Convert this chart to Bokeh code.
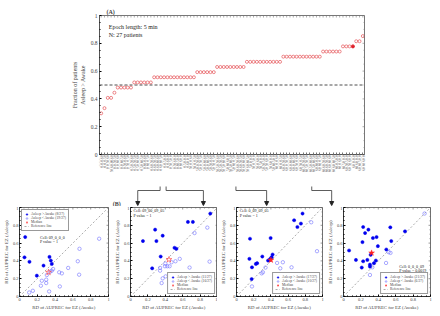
from bokeh.plotting import figure
from bokeh.layouts import column, row
from bokeh.models import (FixedTicker, CustomJSTickFormatter, Span, Label,
                          Arrow, NormalHead, Range1d, Legend, LegendItem)
from bokeh.embed import file_html
from bokeh.resources import INLINE

FONT = "Liberation Serif"

# ---------------- data: panel (A) ----------------
cells = [
    "09_0_0_0", "05_0_0_0", "09_05_0_0", "09_00_09_05", "05_05_0_0",
    "09_09_0_0", "05_09_0_0", "09_0_05_0", "05_0_05_0", "09_05_05_0",
    "05_05_05_0", "09_09_05_0", "05_09_05_0", "09_0_09_0", "05_0_09_0",
    "09_05_09_0", "05_05_09_0", "09_09_09_0", "05_09_09_0", "0_05_0_0",
    "0_09_0_0", "0_05_05_0", "0_09_05_0", "0_05_09_0", "0_09_09_0",
    "0_0_05_0", "0_0_09_0", "09_0_0_05", "05_0_0_05", "09_05_0_05",
    "05_05_0_05", "09_09_0_05", "05_09_0_05", "09_0_05_05", "05_0_05_05",
    "09_05_05_05", "05_05_05_05", "09_09_05_05", "0_09_09_05", "05_09_05_05",
    "05_0_09_05", "09_05_09_05", "05_05_09_05", "09_09_09_05", "05_09_09_05",
    "0_0_0_05", "0_05_0_05", "0_09_0_05", "0_0_05_05", "0_05_05_05",
    "0_09_05_05", "0_0_09_05", "0_05_09_05", "09_0_0_09", "05_0_0_09",
    "09_05_0_09", "05_05_0_09", "09_09_0_09", "05_09_0_09", "09_0_05_09",
    "05_0_05_09", "09_05_05_09", "05_05_05_09", "09_09_05_09", "05_09_05_09",
    "09_0_09_09", "05_0_09_09", "09_05_09_09", "05_05_09_09", "09_09_09_09",
    "05_09_09_09", "0_05_0_09", "0_09_0_09", "0_0_05_09", "0_05_05_09",
    "0_09_05_09", "0_0_0_09", "0_0_09_09", "0_05_09_09", "0_09_09_09",
]
# number of patients with Asleep > Awake (out of 27), per cell, sorted
n_asleep_gt = [
    8, 9, 11, 11, 12, 13, 13, 13, 13, 13,
    14, 14, 14, 14, 14, 14, 15, 15, 15, 15,
    15, 15, 15, 15, 15, 15, 15, 15, 15, 16,
    16, 16, 16, 16, 16, 17, 17, 17, 17, 17,
    17, 17, 17, 17, 18, 18, 18, 18, 18, 18,
    18, 18, 18, 18, 18, 19, 19, 19, 19, 19,
    19, 19, 19, 19, 19, 19, 19, 20, 20, 20,
    20, 20, 20, 21, 21, 21, 21, 22, 22, 23,
]
N_PATIENTS = 27
selected = [0, 3, 38, 76]
highlight = 76
y_ticks = [0, 0.2, 0.4, 0.6, 0.8, 1]
y_minor = [0.05, 0.1, 0.15, 0.25, 0.3, 0.35, 0.45, 0.5, 0.55, 0.65, 0.7, 0.75, 0.85, 0.9, 0.95]

# ---------------- data: panels (B) ----------------
p1_fill_x = [0.064, 0.056, 0.112, 0.27, 0.337, 0.352, 0.363, 0.195]
p1_fill_y = [0.668, 0.44, 0.39, 0.347, 0.445, 0.404, 0.366, 0.234]
p1_open_x = [0.895, 0.674, 0.655, 0.547, 0.670, 0.446, 0.476, 0.453, 0.378, 0.345,
             0.307, 0.30, 0.30, 0.251, 0.24, 0.333, 0.15, 0.109, 0.363]
p1_open_y = [0.649, 0.536, 0.396, 0.321, 0.245, 0.272, 0.26, 0.113, 0.309, 0.279,
             0.241, 0.189, 0.151, 0.177, 0.121, 0.057, 0.064, 0.045, 0.29]
p1_median = (0.326, 0.272)

p2_fill_x = [0.917, 0.66, 0.717, 0.283, 0.37, 0.298, 0.143, 0.506, 0.528, 0.347, 0.249]
p2_fill_y = [0.932, 0.838, 0.838, 0.751, 0.683, 0.623, 0.623, 0.547, 0.536, 0.449, 0.317]
p2_open_x = [0.883, 0.736, 0.909, 0.679, 0.566, 0.517, 0.396, 0.423, 0.449, 0.472,
             0.40, 0.34, 0.34, 0.404, 0.358, 0.37]
p2_open_y = [0.774, 0.713, 0.392, 0.325, 0.423, 0.396, 0.34, 0.34, 0.34, 0.385,
             0.37, 0.321, 0.29, 0.226, 0.151, 0.204]
p2_median = (0.442, 0.415)

p3_fill_x = [0.768, 0.67, 0.749, 0.708, 0.157, 0.397, 0.15, 0.18, 0.225, 0.24,
             0.3, 0.393, 0.42, 0.408, 0.367, 0.176, 0.385]
p3_fill_y = [0.932, 0.857, 0.819, 0.781, 0.649, 0.657, 0.423, 0.328, 0.366, 0.374,
             0.449, 0.423, 0.472, 0.442, 0.404, 0.196, 0.41]
p3_open_x = [0.869, 0.936, 0.539, 0.472, 0.509, 0.64, 0.337, 0.307, 0.292, 0.18]
p3_open_y = [0.834, 0.509, 0.385, 0.377, 0.317, 0.328, 0.325, 0.272, 0.26, 0.113]
p3_median = (0.40, 0.41)

p4_fill_x = [0.226, 0.286, 0.248, 0.538, 0.707, 0.338, 0.38, 0.218, 0.549, 0.395,
             0.064, 0.492, 0.143, 0.226, 0.274, 0.312, 0.372, 0.35, 0.304, 0.304, 0.21]
p4_fill_y = [0.781, 0.751, 0.713, 0.777, 0.732, 0.657, 0.668, 0.611, 0.623, 0.566,
             0.517, 0.528, 0.411, 0.396, 0.411, 0.468, 0.404, 0.374, 0.358, 0.336, 0.325]
p4_open_x = [0.932, 0.519, 0.54, 0.489, 0.331, 0.304]
p4_open_y = [0.932, 0.498, 0.49, 0.377, 0.328, 0.242]
p4_median = (0.323, 0.49)

panel_cells = ["Cell: 09_0_0_0", "Cell: 09_00_09_05", "Cell: 0_09_09_05", "Cell: 0_0_0_09"]
panel_pvalues = ["P value = 1", "P value = 1", "P value = 1", "P value = 0.0019"]

num_fmt = CustomJSTickFormatter(code="return String(Math.round(tick*10)/10);")


def box_ticks(p, xt, yt, x_minor, y_minor_t, x0, x1, y0, y1, dx_maj, dy_maj, dx_min, dy_min, color):
    """Inward ticks on the top and right edges of the frame (MATLAB box style)."""
    xs0, ys0, xs1, ys1 = [], [], [], []
    for t in xt:
        xs0.append(t); ys0.append(y1); xs1.append(t); ys1.append(y1 - dy_maj)
    for t in x_minor:
        xs0.append(t); ys0.append(y1); xs1.append(t); ys1.append(y1 - dy_min)
    for t in yt:
        xs0.append(x1); ys0.append(t); xs1.append(x1 - dx_maj); ys1.append(t)
    for t in y_minor_t:
        xs0.append(x1); ys0.append(t); xs1.append(x1 - dx_min); ys1.append(t)
    p.segment(xs0, ys0, xs1, ys1, line_color=color, line_width=0.6)


# ---------------- panel (A) ----------------
TL, TR, TT, TB = 99, 76, 15, 24
TOP_W, TOP_H = 440, 178
frame_w = TOP_W - TL - TR
frame_h = TOP_H - TT - TB
x_idx = list(range(1, len(n_asleep_gt) + 1))
frac = [n / N_PATIENTS for n in n_asleep_gt]
x_lo, x_hi = 0.5, len(x_idx) + 0.5

top = figure(width=TOP_W, height=TOP_H, x_range=Range1d(x_lo, x_hi),
             y_range=Range1d(0, 1), output_backend="svg", toolbar_location=None,
             min_border_left=TL, min_border_right=TR, min_border_top=TT, min_border_bottom=TB)
top.grid.visible = False
top.outline_line_color = "#555555"
top.outline_line_width = 0.8
top.title.text = "(A)"
top.title.text_font = FONT
top.title.text_font_size = "6px"
top.title.text_font_style = "bold"
top.title.offset = 7
top.title.standoff = 2

ux = (x_hi - x_lo) / frame_w
uy = 1.0 / frame_h
box_ticks(top, x_idx, y_ticks, [], y_minor, x_lo, x_hi, 0, 1,
          2 * ux, 2 * uy, 1 * ux, 1 * uy, "#777777")

top.scatter(x_idx, frac, marker="circle", size=3.0, fill_color=None,
            line_color="#e0393e", line_width=0.6)
top.scatter([x_idx[highlight]], [frac[highlight]], marker="circle", size=3.0,
            fill_color="#e0202a", line_color="#e0202a", line_width=0.6)
top.add_layout(Span(location=0.5, dimension="width", line_dash="3 2",
                    line_color="#222222", line_width=0.8))
top.add_layout(Label(x=3.3, y=0.915, text="Epoch length: 5 min", text_font=FONT,
                     text_font_size="6px", text_baseline="middle", text_color="#222222"))
top.add_layout(Label(x=3.3, y=0.86, text="N: 27 patients", text_font=FONT,
                     text_font_size="6px", text_baseline="middle", text_color="#222222"))

xa = top.xaxis[0]
xa.ticker = FixedTicker(ticks=x_idx)
xa.formatter = CustomJSTickFormatter(args=dict(labels=cells),
                                     code="return labels[Math.round(tick)-1];")
xa.major_label_orientation = "vertical"
xa.major_label_text_font = FONT
xa.major_label_text_font_size = "3px"
xa.major_label_text_color = "#777777"
xa.major_label_standoff = 1
xa.major_tick_in = 2
xa.major_tick_out = 0
xa.axis_line_color = "#555555"
xa.major_tick_line_color = "#777777"

ya = top.yaxis[0]
ya.ticker = FixedTicker(ticks=y_ticks, minor_ticks=y_minor)
ya.formatter = num_fmt
ya.axis_label = "Fraction of patients\nAsleep > Awake"
ya.axis_label_text_font = FONT
ya.axis_label_text_font_size = "6px"
ya.axis_label_text_font_style = "normal"
ya.axis_label_standoff = 2
ya.major_label_text_font = FONT
ya.major_label_text_font_size = "5.5px"
ya.major_label_standoff = 2
ya.major_tick_in = 2
ya.major_tick_out = 0
ya.minor_tick_in = 1
ya.minor_tick_out = 0
ya.axis_line_color = "#555555"

# ---------------- panels (B) layout ----------------
PANEL_H = 110
FRAME = 89
panel_widths = [111, 106, 107, 116]
panel_left = [19, 17, 16, 17]
panel_right = [w - l - FRAME for w, l in zip(panel_widths, panel_left)]


def make_panel(k, fx, fy, ox, oy, med, star_filled, legend_loc, txt_x, txt_y):
    n_f, n_o = len(fx), len(ox)
    p = figure(width=panel_widths[k], height=PANEL_H, x_range=Range1d(0, 1),
               y_range=Range1d(0, 1), output_backend="svg", toolbar_location=None,
               min_border_left=panel_left[k], min_border_right=panel_right[k],
               min_border_top=1, min_border_bottom=PANEL_H - FRAME - 1)
    p.grid.visible = False
    p.outline_line_color = "#333333"
    p.outline_line_width = 0.7
    u = 1.0 / FRAME
    box_ticks(p, y_ticks, y_ticks, y_minor, y_minor, 0, 1, 0, 1,
              2 * u, 2 * u, 1 * u, 1 * u, "#555555")
    r_ref = p.line([0, 1], [0, 1], line_dash="2 2", line_color="#888888", line_width=0.7)
    r_o = p.scatter(ox, oy, marker="circle", size=3.4, fill_color=None,
                    line_color="#7070ff", line_width=0.6)
    r_f = p.scatter(fx, fy, marker="circle", size=3.2, fill_color="#0000ee",
                    line_color="#0000ee", line_width=0.5)
    if star_filled:
        r_m = p.scatter([med[0]], [med[1]], marker="star", size=6,
                        fill_color="#ff2020", line_color="#ff2020", line_width=0.5)
    else:
        r_m = p.scatter([med[0]], [med[1]], marker="star", size=6,
                        fill_color=None, line_color="#ff3030", line_width=0.6)
    total = n_f + n_o
    leg = Legend(items=[
        LegendItem(label="Asleep > Awake (%d/%d)" % (n_f, total), renderers=[r_f]),
        LegendItem(label="Asleep < Awake (%d/%d)" % (n_o, total), renderers=[r_o]),
        LegendItem(label="Median", renderers=[r_m]),
        LegendItem(label="Reference line", renderers=[r_ref]),
    ], location=legend_loc)
    leg.label_text_font = FONT
    leg.label_text_font_size = "3.6px"
    leg.label_height = 4
    leg.glyph_height = 4
    leg.glyph_width = 5
    leg.label_standoff = 2
    leg.spacing = 0
    leg.padding = 2
    leg.margin = 2
    leg.border_line_color = "#333333"
    leg.border_line_width = 0.5
    p.add_layout(leg)
    p.add_layout(Label(x=txt_x, y=txt_y, text=panel_cells[k], text_font=FONT,
                       text_font_size="4px", text_baseline="middle", text_color="#222222"))
    p.add_layout(Label(x=txt_x, y=txt_y - 0.05, text=panel_pvalues[k], text_font=FONT,
                       text_font_size="4px", text_baseline="middle", text_color="#222222"))
    for ax in (p.xaxis[0], p.yaxis[0]):
        ax.ticker = FixedTicker(ticks=y_ticks, minor_ticks=y_minor)
        ax.formatter = num_fmt
        ax.major_label_text_font = FONT
        ax.major_label_text_font_size = "4.5px"
        ax.major_label_standoff = 1
        ax.major_tick_in = 2
        ax.major_tick_out = 0
        ax.minor_tick_in = 1
        ax.minor_tick_out = 0
        ax.axis_label_text_font = FONT
        ax.axis_label_text_font_size = "4.8px"
        ax.axis_label_text_font_style = "normal"
        ax.axis_label_standoff = 1
        ax.axis_line_color = "#333333"
    p.xaxis[0].axis_label = "RD of AUPREC for EZ (Awake)"
    p.yaxis[0].axis_label = "RD of AUPREC for EZ (Asleep)"
    return p


p1 = make_panel(0, p1_fill_x, p1_fill_y, p1_open_x, p1_open_y, p1_median, False,
                "top_left", 0.23, 0.668)
p2 = make_panel(1, p2_fill_x, p2_fill_y, p2_open_x, p2_open_y, p2_median, False,
                "bottom_right", 0.035, 0.962)
p3 = make_panel(2, p3_fill_x, p3_fill_y, p3_open_x, p3_open_y, p3_median, True,
                "bottom_right", 0.037, 0.962)
p4 = make_panel(3, p4_fill_x, p4_fill_y, p4_open_x, p4_open_y, p4_median, True,
                "bottom_right", 0.64, 0.34)

# ---------------- connectors ----------------
CONN_H = 28
conn = figure(width=TOP_W, height=CONN_H, x_range=Range1d(0, TOP_W),
              y_range=Range1d(TOP_H + CONN_H, TOP_H), output_backend="svg",
              toolbar_location=None, x_axis_type=None, y_axis_type=None, min_border=0)
conn.grid.visible = False
conn.outline_line_color = None

panel_x0 = [0, 111, 217, 324]
centers = [x0 + l + FRAME / 2 for x0, l in zip(panel_x0, panel_left)]
y_a, y_b, y_c = TOP_H + 8, TOP_H + 12, TOP_H + CONN_H - 1
for i, cx in zip(selected, centers):
    sx = TL + (i + 0.5) * frame_w / len(x_idx)
    conn.line([sx, sx, cx, cx], [y_a, y_b, y_b, y_c - 3], line_color="#333333", line_width=0.8)
    conn.add_layout(Arrow(x_start=cx, y_start=y_c - 4, x_end=cx, y_end=y_c,
                          line_color="#333333", line_width=0.8,
                          end=NormalHead(size=4, fill_color="#222222", line_color="#222222")))
conn.add_layout(Label(x=22, y=TOP_H + CONN_H - 3, text="(B)", text_font=FONT,
                      text_font_size="6px", text_font_style="bold", text_baseline="middle"))

layout = column(top, conn, row(p1, p2, p3, p4))
open("out.html", "w").write(file_html(layout, INLINE))
